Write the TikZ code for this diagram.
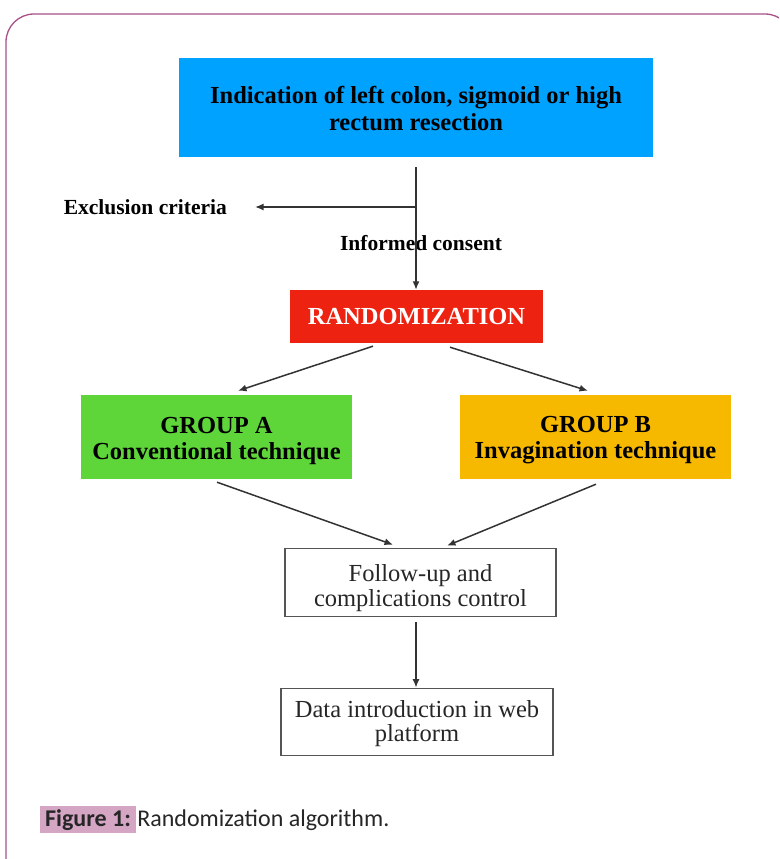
\documentclass[tikz,border=0pt]{standalone}
\usepackage{fontspec}
\setmainfont{Liberation Serif}
\newfontfamily\capfont{Carlito}
\usetikzlibrary{arrows.meta,calc}
\definecolor{frameC}{HTML}{A8508A}
\definecolor{blueC}{HTML}{00A2FF}
\definecolor{redC}{HTML}{EE2211}
\definecolor{greenC}{HTML}{5ED63A}
\definecolor{orangeC}{HTML}{F7B900}
\definecolor{hlC}{HTML}{D4A6C4}
\definecolor{arrC}{HTML}{333333}
\definecolor{boxline}{HTML}{555555}
\tikzset{
  colbox/.style={rectangle, inner sep=0pt, align=center, text=black,
    font=\fontsize{24.5}{27}\selectfont\bfseries},
  plainbox/.style={rectangle, inner sep=0pt, align=center, text=black!85,
    draw=boxline, line width=1.6pt, fill=white,
    font=\fontsize{24.5}{27.5}\selectfont},
  lbl/.style={inner sep=0pt, text=black, font=\fontsize{21.5}{24}\selectfont\bfseries},
  arr/.style={draw=arrC, line width=1.5pt, -{Latex[length=8.5pt,width=7pt]}},
}
\begin{document}
\begin{tikzpicture}[x=1pt,y=-1pt]
\useasboundingbox (0,0) rectangle (779,859);
\begin{scope}
\clip (0,0) rectangle (779,859);
\draw[frameC, line width=1.3pt, rounded corners=28pt] (6,14) rectangle (793,900);
\end{scope}
\node[colbox, fill=blueC, minimum width=474pt, minimum height=99pt] (top) at (416,107.5)
  {\rule{0pt}{19pt}Indication of left colon, sigmoid or high\\rectum resection};
\node[colbox, fill=redC, text=white, minimum width=253pt, minimum height=53pt] (rand) at (416.5,316.5)
  {RANDOMIZATION};
\node[colbox, fill=greenC, minimum width=271pt, minimum height=84pt,
  font=\fontsize{24.5}{26}\selectfont\bfseries] (ga) at (216.5,437)
  {\rule{0pt}{23.3pt}GROUP A\\Conventional technique};
\node[colbox, fill=orangeC, minimum width=271pt, minimum height=84pt,
  font=\fontsize{24.5}{26}\selectfont\bfseries] (gb) at (595.5,437)
  {\rule{0pt}{23.3pt}GROUP B\\Invagination technique};
\node[plainbox, minimum width=271pt, minimum height=68pt,
  font=\fontsize{24.5}{25.5}\selectfont] (fu) at (420.5,582.5)
  {\rule{0pt}{28.7pt}Follow-up and\\complications control};
\node[plainbox, minimum width=272pt, minimum height=67pt,
  font=\fontsize{24.5}{24}\selectfont] (data) at (417,722)
  {\rule{0pt}{20pt}Data introduction in web\\platform};
\node[lbl, anchor=east] (excl) at (227,207) {Exclusion criteria};
\node[lbl] (cons) at (421,243) {Informed consent};
\coordinate (j) at (416,207);
\coordinate (s) at (416,167);
\draw[arr] (s) -- (rand.north -| s);
\draw[arr, shorten >=28pt] (j) -- (excl.east);
\draw[arr] ($(rand.south)+(-43.5,3)$) -- ($(ga.north)+(21.5,-4)$);
\draw[arr] ($(rand.south)+(33.5,4)$) -- ($(gb.north)+(-7.5,-4)$);
\draw[arr] ($(ga.south)+(0.5,3)$) -- ($(fu.north)+(-27.5,-3)$);
\draw[arr] ($(gb.south)+(0.5,5)$) -- ($(fu.north)+(26.5,-2)$);
\draw[arr] ($(fu.south -| data.north)+(-1,5)$) -- ($(data.north)+(-1,0)$);
\node[inner xsep=5pt, inner ysep=3pt, fill=hlC, text=black!85, anchor=base west,
  font=\capfont\fontsize{24}{26}\selectfont\bfseries] (figlab) at (40,826) {Figure 1:};
\node[inner xsep=1pt, inner ysep=0pt, text=black!85, anchor=base west,
  font=\capfont\fontsize{24}{26}\selectfont] (figtxt) at (figlab.base east) {Randomization algorithm.};
\end{tikzpicture}
\end{document}
